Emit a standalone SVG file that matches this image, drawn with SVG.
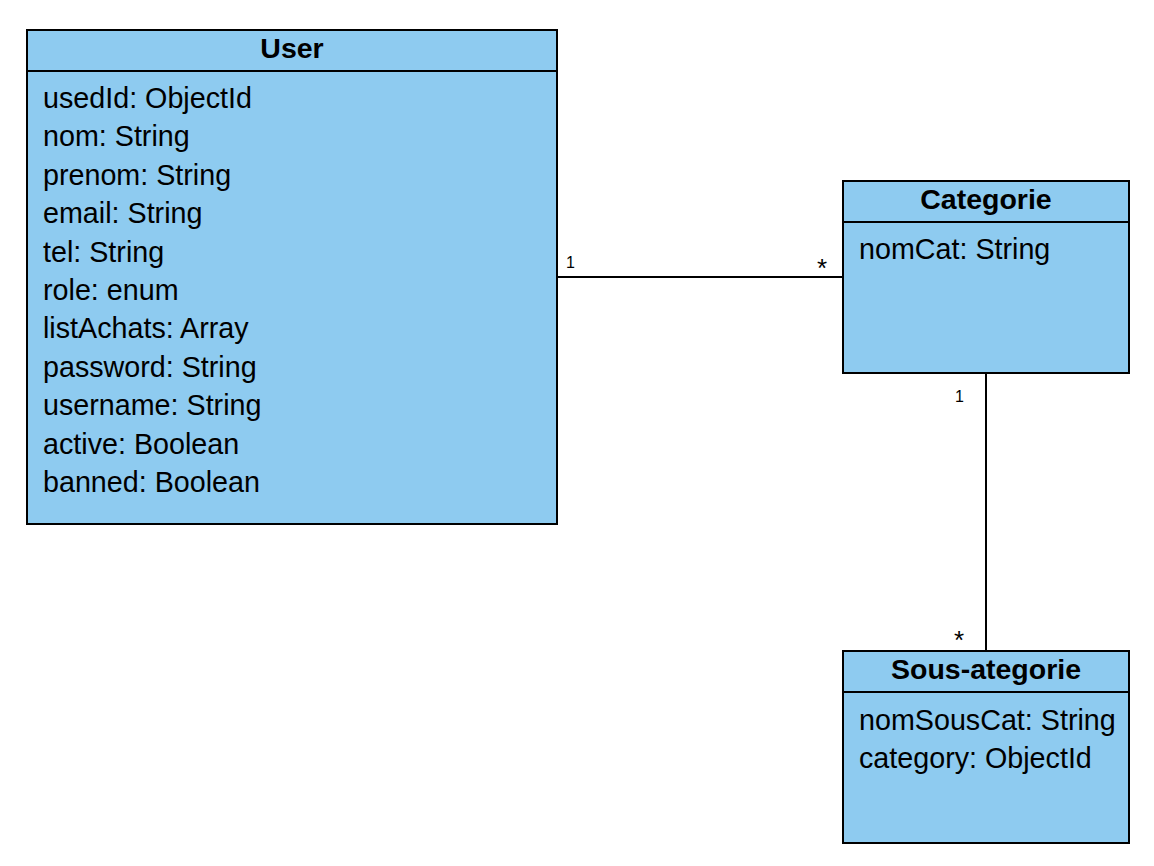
<svg xmlns="http://www.w3.org/2000/svg" width="1154" height="866" viewBox="0 0 1154 866">
<style>
.box{fill:#8ECBF0;stroke:#000;stroke-width:2}
.div{stroke:#000;stroke-width:2}
.title{font-family:"Liberation Sans",Arial,sans-serif;font-weight:bold;font-size:28.5px;text-anchor:middle;fill:#000}
.attr{font-family:"Liberation Sans",Arial,sans-serif;font-size:28.7px;fill:#000}
.mult{font-family:"Liberation Sans",Arial,sans-serif;font-size:16px;fill:#000}
.star{font-family:"Liberation Sans",Arial,sans-serif;font-size:26px;fill:#000}
.conn{stroke:#000;stroke-width:2;fill:none}
</style>
<rect width="1154" height="866" fill="#fff"/>
<g id="connectors">
<line class="conn" x1="557" y1="277" x2="843" y2="277"/>
<line class="conn" x1="986" y1="373" x2="986" y2="651"/>
<text class="mult" x="566" y="268">1</text>
<text class="star" x="817" y="277">*</text>
<text class="mult" x="955" y="402">1</text>
<text class="star" x="954" y="649">*</text>
</g>
<g id="user">
<rect class="box" x="27" y="30" width="530" height="494"/>
<line class="div" x1="27" y1="71" x2="557" y2="71"/>
<text class="title" x="292" y="58">User</text>
<text class="attr" x="43" y="108">usedId: ObjectId</text>
<text class="attr" x="43" y="146">nom: String</text>
<text class="attr" x="43" y="185">prenom: String</text>
<text class="attr" x="43" y="223">email: String</text>
<text class="attr" x="43" y="262">tel: String</text>
<text class="attr" x="43" y="300">role: enum</text>
<text class="attr" x="43" y="338">listAchats: Array</text>
<text class="attr" x="43" y="377">password: String</text>
<text class="attr" x="43" y="415">username: String</text>
<text class="attr" x="43" y="454">active: Boolean</text>
<text class="attr" x="43" y="492">banned: Boolean</text>
</g>
<g id="categorie">
<rect class="box" x="843" y="181" width="286" height="192"/>
<line class="div" x1="843" y1="222" x2="1129" y2="222"/>
<text class="title" x="986" y="209">Categorie</text>
<text class="attr" x="859" y="259">nomCat: String</text>
</g>
<g id="sous-categorie">
<rect class="box" x="843" y="651" width="286" height="192"/>
<line class="div" x1="843" y1="692" x2="1129" y2="692"/>
<text class="title" x="986" y="679">Sous-ategorie</text>
<text class="attr" x="859" y="730">nomSousCat: String</text>
<text class="attr" x="859" y="768">category: ObjectId</text>
</g>
</svg>
